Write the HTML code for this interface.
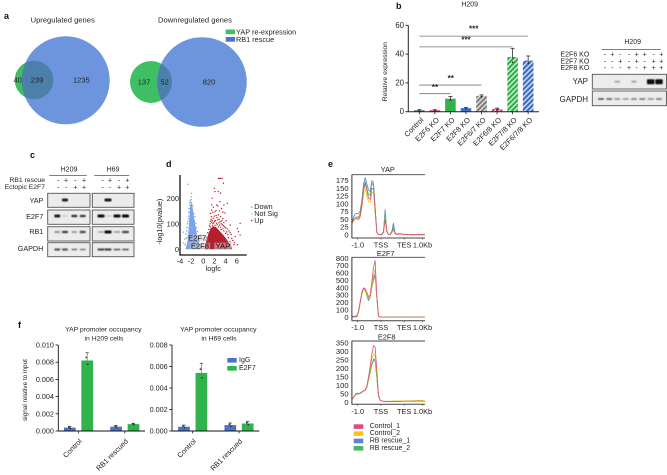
<!DOCTYPE html>
<html lang="en">
<head>
<meta charset="utf-8">
<title>Multi-panel figure</title>
<style>
html,body{margin:0;padding:0;background:#fff;width:667px;height:475px;overflow:hidden}
svg{display:block;font-family:"Liberation Sans",sans-serif;fill:#222;filter:blur(.3px)}
text{dominant-baseline:central}
.mid{text-anchor:middle}
.end{text-anchor:end}
.pl{font-weight:bold;font-size:9px;fill:#111}
</style>
</head>
<body>
<svg id="fig" xmlns="http://www.w3.org/2000/svg" width="667" height="475" viewBox="0 0 667 475">
<defs>
<filter id="bl" x="-40%" y="-80%" width="180%" height="260%"><feGaussianBlur stdDeviation="0.55"/></filter>
<clipPath id="clip-up"><circle cx="34" cy="80" r="19.3"/></clipPath>
<clipPath id="clip-down"><circle cx="151" cy="82" r="21"/></clipPath>
<pattern id="h-gray" width="3.4" height="3.4" patternUnits="userSpaceOnUse" patternTransform="rotate(45)"><rect width="3.4" height="3.4" fill="#e8e8e8"/><rect width="2.1" height="3.4" fill="#7d7d7d"/></pattern>
<pattern id="h-green" width="3.6" height="3.6" patternUnits="userSpaceOnUse" patternTransform="rotate(45)"><rect width="3.6" height="3.6" fill="#dff3e2"/><rect width="2.3" height="3.6" fill="#2fb34a"/></pattern>
<pattern id="h-blue" width="3.6" height="3.6" patternUnits="userSpaceOnUse" patternTransform="rotate(45)"><rect width="3.6" height="3.6" fill="#dfe7f6"/><rect width="2.3" height="3.6" fill="#3f6fc6"/></pattern>
<pattern id="h-red" width="3.2" height="3.2" patternUnits="userSpaceOnUse" patternTransform="rotate(45)"><rect width="3.2" height="3.2" fill="#f3d5df"/><rect width="2" height="3.2" fill="#d5336b"/></pattern>
</defs>

<!-- panel letters -->
<text class="pl" x="4" y="16">a</text>
<text class="pl" x="396" y="6">b</text>
<text class="pl" x="30" y="155">c</text>
<text class="pl" x="166" y="164">d</text>
<text class="pl" x="328" y="164">e</text>
<text class="pl" x="18" y="325">f</text>

<!-- panel a -->
<g>
<circle cx="34" cy="80" r="19.3" fill="#3fbf63"/>
<circle cx="65.7" cy="80.3" r="44" fill="#6c95dd"/>
<circle cx="65.7" cy="80.3" r="44" fill="#4b80aa" clip-path="url(#clip-up)"/>
<text class="mid" x="62.7" y="20" font-size="7.6">Upregulated genes</text>
<text class="mid" x="17.7" y="80" font-size="7.5">40</text>
<text class="mid" x="37" y="80" font-size="7.5">239</text>
<text class="mid" x="81.3" y="80" font-size="7.5">1235</text>
</g>
<g>
<circle cx="151" cy="82" r="21" fill="#3fbf63"/>
<circle cx="202" cy="82" r="44.8" fill="#6c95dd"/>
<circle cx="202" cy="82" r="44.8" fill="#4b80aa" clip-path="url(#clip-down)"/>
<text class="mid" x="195" y="20" font-size="7.6">Downregulated genes</text>
<text class="mid" x="144" y="82" font-size="7.5">137</text>
<text class="mid" x="164.7" y="82" font-size="7.5">52</text>
<text class="mid" x="209" y="82" font-size="7.5">820</text>
</g>
<g>
<rect x="225.7" y="29.5" width="9.3" height="4.7" fill="#3fbf63"/>
<text x="236" y="32" font-size="7.3">YAP re-expression</text>
<rect x="225.7" y="37" width="9.3" height="4.7" fill="#4b74c6"/>
<text x="236" y="39.3" font-size="7.3">RB1 rescue</text>
</g>

<!-- panel b text -->
<text class="mid" x="469.7" y="5" font-size="7">H209</text>
<text class="mid" transform="translate(385.7 71.7) rotate(-90)" font-size="6.8">Relative expression</text>
<text class="mid" x="632.7" y="42.3" font-size="7">H209</text>
<line x1="601.7" x2="660.7" y1="49.3" y2="49.3" stroke="#333" stroke-width=".7"/>
<text class="end" x="589.3" y="55" font-size="7">E2F6 KO</text>
<text class="end" x="589.3" y="62" font-size="7">E2F7 KO</text>
<text class="end" x="589.3" y="68.7" font-size="7">E2F8 KO</text>
<text class="end" x="588" y="81.7" font-size="8">YAP</text>
<text class="end" x="588" y="99.3" font-size="8">GAPDH</text>

<!-- panel c text -->
<text class="mid" x="69" y="170" font-size="7">H209</text>
<text class="mid" x="113" y="170" font-size="7">H69</text>
<line x1="49.3" x2="86.7" y1="175.7" y2="175.7" stroke="#333" stroke-width=".7"/>
<line x1="94.3" x2="129.3" y1="175.7" y2="175.7" stroke="#333" stroke-width=".7"/>
<text class="end" x="45" y="180.3" font-size="6.8">RB1 rescue</text>
<text class="end" x="45" y="187.3" font-size="6.8">Ectopic E2F7</text>
<text class="end" x="43.3" y="200.7" font-size="7.2">YAP</text>
<text class="end" x="43.3" y="216.3" font-size="7.2">E2F7</text>
<text class="end" x="43.3" y="231.7" font-size="7.2">RB1</text>
<text class="end" x="43.3" y="248.3" font-size="7.2">GAPDH</text>

<!-- panel d text -->
<text class="mid" transform="translate(159.3 221.7) rotate(-90)" font-size="7.2">-log10(pvalue)</text>
<text class="mid" x="213.3" y="268.3" font-size="7.2">logfc</text>
<text x="254.3" y="206.7" font-size="7.2">Down</text>
<text x="254.3" y="213.7" font-size="7.2">Not Sig</text>
<text x="254.3" y="220.3" font-size="7.2">Up</text>
<circle cx="251.7" cy="207" r=".8" fill="#6d9be8"/>
<circle cx="251.7" cy="213.7" r=".8" fill="#bbb"/>
<circle cx="251.7" cy="220.5" r=".8" fill="#b5202e"/>

<!-- panel e legend -->
<g>
<rect x="353.7" y="424.3" width="9.6" height="4.6" fill="#d94f7c"/>
<text x="369.7" y="426.5" font-size="7">Control_1</text>
<rect x="353.7" y="431.3" width="9.6" height="4.6" fill="#fbc312"/>
<text x="369.7" y="433.5" font-size="7">Control_2</text>
<rect x="353.7" y="438.7" width="9.6" height="4.6" fill="#5b83cf"/>
<text x="369.7" y="441" font-size="7">RB rescue_1</text>
<rect x="353.7" y="446" width="9.6" height="4.6" fill="#46b95f"/>
<text x="369.7" y="448.3" font-size="7">RB rescue_2</text>
</g>

<!-- panel f text -->
<text class="mid" x="103.3" y="330" font-size="6.8">YAP promoter occupancy</text>
<text class="mid" x="104" y="339" font-size="6.8">in H209 cells</text>
<text class="mid" x="218.3" y="330" font-size="6.8">YAP promoter occupancy</text>
<text class="mid" x="219" y="339" font-size="6.8">in H69 cells</text>
<text class="mid" transform="translate(25.3 390) rotate(-90)" font-size="6.4">signal relative to input</text>
<rect x="227.3" y="358" width="9.4" height="4.6" fill="#4b74c6"/>
<text x="239" y="360.3" font-size="7">IgG</text>
<rect x="227.3" y="366" width="9.4" height="4.6" fill="#2fb34a"/>
<text x="239" y="368.3" font-size="7">E2F7</text>

<g id="layer"></g>
</svg>

<script>
/* ---------- panel b: relative expression ---------- */
const bCategories = ["Control","E2F6 KO","E2F7 KO","E2F8 KO","E2F6/7 KO","E2F6/8 KO","E2F7/8 KO","E2F6/7/8 KO"];
const bValues = [1, 1, 9, 2.5, 11, 2, 38, 35.5];
const bErrors = [0.4, 0.4, 1.6, 0.5, 0.7, 0.5, 6, 3.2];
const bFills = ["#6a6a6a","#d5336b","#2fb34a","#3f6fc6","url(#h-gray)","url(#h-red)","url(#h-green)","url(#h-blue)"];
const bTicks = [0, 20, 40, 60];
const bSigSpan = [[0,7,"***"],[0,6,"***"],[0,4,"**"],[0,2,"**"]];
const bSigLevel = [52.5, 45, 18.5, 12.5];

/* ---------- panel b: blot ---------- */
const koRowE2F6 = ["-","+","-","-","+","+","-","+"];
const koRowE2F7 = ["-","-","+","-","+","-","+","+"];
const koRowE2F8 = ["-","-","-","+","-","+","+","+"];
const bBlotYap = [0, 0, 0.3, 0, 0.3, 0, 1.0, 1.0];
const bBlotGapdh = [0.65, 0.6, 0.4, 0.35, 0.45, 0.5, 0.4, 0.5];

/* ---------- panel c: blots ---------- */
const cRescue = ["-","+","-","+"];
const cEctopic = ["-","-","+","+"];
const cYapH209 = [0, 0.9, 0, 0];
const cE2f7H209 = [0.9, 0.12, 0.85, 0.8];
const cRb1H209 = [0.45, 0.8, 0.4, 0.75];
const cGapdhH209 = [0.65, 0.65, 0.5, 0.45];
const cYapH69 = [0, 0.95, 0, 0];
const cE2f7H69 = [1.0, 0.15, 1.0, 1.0];
const cRb1H69 = [0.3, 1.0, 0.35, 0.75];
const cGapdhH69 = [0.7, 0.75, 0.6, 0.6];

/* ---------- panel d: volcano ---------- */
const dXTicks = [-4, -2, 0, 2, 4, 6];
const dYTicks = [0, 100, 200];
const downEnvelope = [[-3.2,0],[-3,15],[-2.8,35],[-2.6,90],[-2.45,150],[-2.2,190],[-1.9,160],[-1.6,115],[-1.2,65],[-0.9,30],[-0.6,5],[-0.6,0]];
const upEnvelope = [[0.2,3],[0.5,30],[0.9,60],[1.3,82],[1.8,90],[2.2,88],[2.6,80],[3,70],[3.5,58],[4,45],[4.5,28],[5,12],[5.2,0],[0.2,0]];
const notSigEnvelope = [[-1.1,10],[0,14],[1,10],[1,0],[-1.1,0]];
const downPoints = [[-2.7,255],[-2.1,220],[-2.2,195],[-2.35,190],[-2.1,182],[-2.4,172],[-2.0,165],[-2.55,160],[-2.3,158],[-1.9,150],[-2.7,130],[-1.8,125],[-2.6,120],[-1.6,110],[-2.85,100],[-1.55,95],[-2.9,85],[-1.4,80],[-3.6,67],[-3.1,60],[-1.3,62],[-3.3,40],[-3.5,25],[-1.1,42],[-2.15,205],[-2.45,183],[-1.85,172],[-2.65,145],[-1.7,140],[-1.5,128],[-2.75,110],[-1.35,102],[-1.25,85],[-1.05,70],[-3,72],[-3.05,45],[-0.95,52],[-0.8,32],[-3.25,18],[-0.65,18]];
const upPoints = [[2.7,278],[2.9,278],[3.1,278],[3.4,278],[2.0,239],[3.6,259],[2.7,226],[3.1,220],[2.1,226],[1.6,200],[4.3,180],[3.7,174],[3,187],[2.4,174],[1.5,174],[3.3,160],[1.5,154],[2.1,147],[1.8,122],[2.7,135],[3.9,142],[1.7,145],[2.3,132],[3.1,128],[3.5,120],[2.6,115],[1.4,118],[2,110],[3,108],[4.1,112],[4.8,95],[3.4,96],[2.4,102],[1.7,100],[2.9,95],[3.8,88],[4.3,80],[6.6,102],[6.1,82],[6.3,69],[6.6,56],[5.7,50],[4.8,65],[5.1,42],[4.4,58],[3.7,72],[3.2,78],[5.6,26],[4.8,30],[6.1,18],[1.2,100],[1.3,110],[1.1,92],[1.5,105],[1.6,112],[1.9,104],[2.2,112],[2.5,96],[2.8,104],[3.2,100],[3.6,92],[4,84],[4.2,68],[4.6,72],[5,58],[5.3,34],[5.5,18],[4.9,20],[1,78],[0.8,65],[1.45,128],[1.95,130],[2.45,124],[2.85,118],[3.3,112],[3.7,104],[1.25,88],[1.65,92],[2.1,94],[2.7,88],[3.1,86],[3.5,80],[4.0,62],[4.5,46],[0.6,45],[0.45,36],[1.8,165],[2.3,152],[2.9,150],[3.5,146],[1.3,140],[2.6,170]];
const dLabels = [["E2F7",-1.1,45,12],["E2F8",-0.6,13,12],["YAP",3.5,13,10]];

/* ---------- panel e: binding profiles ---------- */
const eXLabels = ["-1.0","TSS","TES","1.0Kb"];
const eXLabelBins = [3.5,17.5,31.5,42.5];
const eSeriesColors = ["#5b83cf","#46b95f","#fbc312","#d94f7c"];
const yapTicks = [0,25,50,75,100,125,150,175];
const yapBlue = [42,58,68,70,68,78,112,165,185,165,145,140,175,170,90,9,2,1,1,12,82,14,2,1,12,38,6,3,4,5,3,2,2,2,2,1,1,1,1,1,1,1,1,1,1];
const yapGreen = [40,50,56,58,58,68,105,155,172,150,130,128,168,160,85,8,2,1,1,10,70,12,2,1,10,30,5,2,3,4,3,2,2,2,2,1,1,1,1,1,1,1,1,1,1];
const yapYellow = [36,45,50,50,48,58,88,130,150,125,108,105,135,138,70,8,2,1,1,8,55,10,2,1,8,18,4,2,3,3,2,2,3,3,2,1,1,1,1,1,1,1,1,1,1];
const yapPink = [38,48,55,55,52,62,95,145,165,145,118,115,150,150,80,8,2,1,1,8,50,12,2,1,8,20,4,2,3,4,3,2,2,2,2,1,1,1,1,1,1,1,1,1,1];
const e2f7Ticks = [0,100,200,300,400,500,600,700,800];
const e2f7Blue = [10,14,16,22,85,210,340,395,370,310,250,290,420,530,590,270,14,5,3,3,2,2,2,2,2,2,2,2,2,2,2,2,2,2,2,2,2,2,2,2,2,2,2,2,2];
const e2f7Green = [8,10,12,18,70,190,320,385,360,290,225,270,400,500,560,260,14,5,3,3,2,2,2,2,2,2,2,2,2,2,2,2,2,2,2,2,2,2,2,2,2,2,2,2,2];
const e2f7Yellow = [5,6,6,10,70,190,310,380,360,310,260,290,420,580,650,280,14,5,3,2,2,2,2,2,2,2,2,2,2,2,2,2,2,2,2,2,2,2,2,2,2,2,2,2,2];
const e2f7Pink = [5,6,6,10,80,210,330,400,385,340,280,300,480,680,770,300,15,5,3,2,2,2,2,2,2,2,2,2,2,2,2,2,2,2,2,2,2,2,2,2,2,2,2,2,2];
const e2f8Ticks = [0,50,100,150,200,250,300,350];
const e2f8Blue = [18,30,42,50,50,52,60,65,72,92,135,180,225,255,250,150,38,12,8,6,5,5,5,5,6,6,6,6,6,7,7,7,7,7,7,8,8,8,8,8,8,9,9,8,7];
const e2f8Green = [18,30,42,50,48,52,58,65,70,88,130,175,220,250,240,145,36,12,8,6,5,5,5,5,6,6,6,6,7,7,7,8,8,8,8,8,9,9,9,9,10,10,9,8,7];
const e2f8Yellow = [18,30,44,52,50,54,60,66,72,92,140,195,255,285,270,165,40,12,8,7,6,6,6,6,7,7,7,7,8,8,8,8,8,9,9,9,9,9,10,10,11,11,11,10,9];
const e2f8Pink = [18,30,45,55,52,55,62,68,72,95,150,215,285,335,325,190,45,12,8,6,5,5,5,5,5,5,5,5,5,5,5,6,6,6,6,6,6,6,6,7,7,7,7,6,6];

/* ---------- panel f: promoter occupancy ---------- */
const fGroups = ["Control","RB1 rescued"];
const h209Igg = [0.0004, 0.0005];
const h209E2f7 = [0.0082, 0.0008];
const h209IggErr = [0.00015, 0.00015];
const h209E2f7Err = [0.0009, 0.0001];
const h209Ticks = [0,0.002,0.004,0.006,0.008,0.010];
const h69Igg = [0.0004, 0.00055];
const h69E2f7 = [0.0054, 0.0007];
const h69IggErr = [0.00015, 0.0002];
const h69E2f7Err = [0.0009, 0.0002];
const h69Ticks = [0,0.002,0.004,0.006,0.008];

const NS = "http://www.w3.org/2000/svg";
const layer = document.getElementById("layer");
function mk(tag, attrs, name, parent, txt) {
  const el = document.createElementNS(NS, tag);
  for (const k in attrs) el.setAttribute(k, attrs[k]);
  
  
  if (txt !== undefined) el.textContent = txt;
  (parent || layer).appendChild(el);
  return el;
}
function line(x1,y1,x2,y2,stroke,w,name,parent){
  return mk("line",{x1,y1,x2,y2,stroke,"stroke-width":w},name,parent);
}
function slug(s){return String(s).toLowerCase().replace(/[^a-z0-9]+/g,'-');}

/* panel b bars */
(function(){
  const g = mk("g",{},"relative-expression-chart");
  const x0 = 419.3, step = 15.55, bw = 10.6;
  const sx = i => x0 + i*step;
  const sy = v => 111.7 - v*(86.4/60);
  bCategories.forEach((c,i)=>{
    const top = sy(bValues[i]);
    mk("rect",{x:sx(i)-bw/2,y:top,width:bw,height:sy(0)-top,fill:bFills[i]},"bar-"+slug(c),g);
    const et = sy(bValues[i]+bErrors[i]);
    line(sx(i),et,sx(i),top+2,"#333",.8,"error-bar-"+slug(c),g);
    line(sx(i)-2,et,sx(i)+2,et,"#333",.8,"error-cap-"+slug(c),g);
    mk("circle",{cx:sx(i),cy:sy(bValues[i]-bErrors[i]*.6),r:.8,fill:"#222"},"data-point-"+slug(c),g);
    line(sx(i),sy(0),sx(i),sy(0)+2.5,"#222",.8,"x-tick-"+slug(c),g);
    mk("text",{class:"end","font-size":7.4,transform:`translate(${sx(i)+3} ${sy(0)+7}) rotate(-45)`},"x-label-"+slug(c),g,c);
  });
  line(408.3,sy(0),539,sy(0),"#222",1,"x-axis",g);
  line(408.3,sy(60),408.3,sy(0),"#222",1,"y-axis",g);
  bTicks.forEach(t=>{
    line(405.5,sy(t),408.3,sy(t),"#222",.9,"y-tick-"+t,g);
    mk("text",{class:"end",x:404,y:sy(t),"font-size":7.8},"y-tick-label-"+t,g,t);
  });
  bSigSpan.forEach((s,i)=>{
    const y = sy(bSigLevel[i]);
    line(sx(s[0]),y,sx(s[1]),y,"#777",.8,"significance-line-"+i,g);
    const lx = i===0?473.7:i===1?466:i===2?450.7:435;
    const ly = [28,39,77.7,86.3][i];
    mk("text",{class:"mid",x:lx,y:ly+1,"font-size":8,"font-weight":"bold"},"significance-stars-"+i,g,s[2]);
  });
})();

function band(parent,cx,cy,w,h,v,name){
  return mk("rect",{x:cx-w/2,y:cy-h/2,width:w,height:h,rx:1,fill:"#111",opacity:v,filter:"url(#bl)"},name,parent);
}
function blotBox(parent,x,y,w,h,name){
  return mk("rect",{x,y,width:w,height:h,fill:"#ececec",stroke:"#555","stroke-width":.9},name,parent);
}

/* panel b blot */
(function(){
  const g = mk("g",{},"blot-b");
  const signX = [605,612.3,620.3,629,636.7,644.7,653.7,661.3];
  [koRowE2F6,koRowE2F7,koRowE2F8].forEach((r,ri)=>{
    r.forEach((s,i)=>mk("text",{class:"mid",x:signX[i],y:[55,62,68.7][ri],"font-size":7},"ko-sign-"+ri+"-"+i,g,s));
  });
  const laneX = [601,609.3,617.3,625.7,634,642.3,650.7,659];
  blotBox(g,592.3,74.3,74.2,14.7,"blot-b-yap-box");
  blotBox(g,592.3,91,74.2,14.7,"blot-b-gapdh-box");
  bBlotYap.forEach((v,i)=>{ if(v>0) band(g,laneX[i],81.7,v>.5?7.5:5.5,v>.5?5:2.2,v,"yap-band-"+i); });
  bBlotGapdh.forEach((v,i)=>band(g,laneX[i],99,6.2,1.7,v,"gapdh-band-"+i));
})();

/* panel c blots */
(function(){
  const g = mk("g",{},"blot-c");
  const boxes = [
    {x:47.7,w:42.3,lanes:[57.3,65,74.3,82.7],signs:[58.3,66,75.3,84],rows:[cYapH209,cE2f7H209,cRb1H209,cGapdhH209],k:"h209"},
    {x:92.3,w:41.7,lanes:[101,108,117,125.5],signs:[102.7,110,119,127.3],rows:[cYapH69,cE2f7H69,cRb1H69,cGapdhH69],k:"h69"}
  ];
  const rowY = [193.3,210,226.7,242.7];
  const rowH = [14,14.3,14.3,14];
  const bandY = [200,216,232,249.5];
  const rowNames = ["yap","e2f7","rb1","gapdh"];
  boxes.forEach(b=>{
    b.signs.forEach((x,i)=>{
      mk("text",{class:"mid",x,y:181,"font-size":7},"rescue-sign-"+b.k+"-"+i,g,cRescue[i]);
      mk("text",{class:"mid",x,y:187.8,"font-size":7},"ectopic-sign-"+b.k+"-"+i,g,cEctopic[i]);
    });
    rowY.forEach((y,r)=>{
      blotBox(g,b.x,y,b.w,rowH[r],"blot-c-"+rowNames[r]+"-"+b.k);
      b.rows[r].forEach((v,i)=>{
        if(v>0) band(g,b.lanes[i],bandY[r],b.k==="h69"?7:6,v>.85?3:v>.6?2.2:1.8,v,"band-"+rowNames[r]+"-"+b.k+"-"+i);
      });
    });
  });
})();

/* panel d volcano */
(function(){
  const g = mk("g",{},"volcano-plot");
  const sx = v => 203.3 + 5.58*v;
  const sy = v => 249.3 - 0.255*v;
  const poly = (e,fill,n) => mk("polygon",{points:e.map(p=>sx(p[0])+","+sy(p[1])).join(" "),fill},n,g);
  poly(notSigEnvelope,"#cfcfcf","not-sig-cloud");
  poly(downEnvelope,"#7aa4ec","down-cloud");
  poly(upEnvelope,"#b5202e","up-cloud");
  downPoints.forEach((p,i)=>mk("circle",{cx:sx(p[0]),cy:sy(p[1]),r:.7,fill:"#6d9be8"},"down-point-"+i,g));
  upPoints.forEach((p,i)=>mk("circle",{cx:sx(p[0]),cy:sy(p[1]),r:.7,fill:"#b5202e"},"up-point-"+i,g));
  dLabels.forEach(l=>{
    mk("rect",{x:sx(l[1])-l[3]*.85,y:sy(l[2])-3.3,width:l[3]*1.7,height:6.6,fill:"#ccc",opacity:.55},"gene-label-box-"+slug(l[0]),g);
    mk("text",{class:"mid",x:sx(l[1]),y:sy(l[2]),"font-size":7.6,fill:"#111"},"gene-label-"+slug(l[0]),g,l[0]);
  });
  line(180,175,180,255,"#111",1.3,"volcano-y-axis",g);
  line(179.4,255,246.7,255,"#111",1.3,"volcano-x-axis",g);
  dXTicks.forEach(t=>mk("text",{class:"mid",x:sx(t)-(t<0?1:0),y:261,"font-size":7.4},"volcano-x-tick-"+t,g,t));
  dYTicks.forEach(t=>mk("text",{class:"end",x:179,y:sy(t),"font-size":7.4},"volcano-y-tick-"+t,g,t));
})();

/* panel e profiles */
function profile(cfg){
  const g = mk("g",{},"profile-"+cfg.key);
  const L = 351.9, R = 425, binW = (R-L)/44;
  const sx = b => L + b*binW;
  const sy = v => cfg.y0 - (v/cfg.maxTick)*(cfg.y0-cfg.yMax);
  mk("text",{class:"mid",x:cfg.titleX,y:cfg.titleY,"font-size":7.4},"profile-title-"+cfg.key,g,cfg.title);
  cfg.series.forEach((s,si)=>{
    const d = s.map((v,i)=>(i?"L":"M")+sx(i).toFixed(2)+" "+sy(v).toFixed(2)).join("");
    mk("path",{d,fill:"none",stroke:eSeriesColors[si],"stroke-width":.8,"stroke-linejoin":"round"},"profile-line-"+cfg.key+"-"+si,g);
  });
  line(L-.2,cfg.top,R,cfg.top,"#444",.9,"profile-frame-top-"+cfg.key,g);
  line(L,cfg.top,L,cfg.bottom,"#333",1,"profile-frame-left-"+cfg.key,g);
  line(L-.2,cfg.bottom,R,cfg.bottom,"#444",1,"profile-frame-bottom-"+cfg.key,g);
  cfg.ticks.forEach(t=>mk("text",{class:"end",x:348.6,y:sy(t),"font-size":7.6},"profile-y-tick-"+cfg.key+"-"+t,g,t));
  eXLabels.forEach((l,i)=>{
    mk("text",{class:"mid",x:sx(eXLabelBins[i]),y:cfg.bottom+7,"font-size":7.4},"profile-x-label-"+cfg.key+"-"+slug(l),g,l);
    line(sx(eXLabelBins[i]),cfg.bottom,sx(eXLabelBins[i]),cfg.bottom+1.5,"#333",.6,"profile-x-tick-"+cfg.key+"-"+i,g);
  });
}
profile({key:"yap",title:"YAP",titleX:387.7,titleY:169.3,top:174.7,bottom:238,y0:235,yMax:180.7,maxTick:175,ticks:yapTicks,series:[yapBlue,yapGreen,yapYellow,yapPink]});
profile({key:"e2f7",title:"E2F7",titleX:385.7,titleY:253.3,top:257.3,bottom:320.7,y0:317.3,yMax:258.3,maxTick:800,ticks:e2f7Ticks,series:[e2f7Blue,e2f7Green,e2f7Yellow,e2f7Pink]});
profile({key:"e2f8",title:"E2F8",titleX:386.7,titleY:337,top:341,bottom:404.3,y0:402.3,yMax:343,maxTick:350,ticks:e2f8Ticks,series:[e2f8Blue,e2f8Green,e2f8Yellow,e2f8Pink]});

/* panel f occupancy */
function occupancy(cfg){
  const g = mk("g",{},"occupancy-"+cfg.key);
  const sy = v => 431 - v/cfg.max*86;
  const bw = 11.7;
  cfg.groups.forEach((name,i)=>{
    const cx = cfg.centers[i];
    [[cfg.igg,cfg.iggErr,-8.7,"#4b74c6","igg"],[cfg.e2f7,cfg.e2f7Err,8.7,"#2fb34a","e2f7"]].forEach(s=>{
      const v = s[0][i], e = s[1][i], bx = cx+s[2];
      mk("rect",{x:bx-bw/2,y:sy(v),width:bw,height:431-sy(v),fill:s[3]},"bar-"+cfg.key+"-"+slug(name)+"-"+s[4],g);
      line(bx,sy(v+e),bx,sy(v),"#888",.9,"error-bar-"+cfg.key+"-"+i+"-"+s[4],g);
      line(bx-1.6,sy(v+e),bx+1.6,sy(v+e),"#444",.8,"error-cap-"+cfg.key+"-"+i+"-"+s[4],g);
      mk("circle",{cx:bx+.5,cy:sy(v-e*.5),r:.8,fill:"#222"},"data-point-"+cfg.key+"-"+i+"-"+s[4]+"-a",g);
      mk("circle",{cx:bx-1,cy:sy(v+e*.4),r:.8,fill:"#222"},"data-point-"+cfg.key+"-"+i+"-"+s[4]+"-b",g);
    });
    line(cx,431,cx,433.5,"#222",.8,"x-tick-"+cfg.key+"-"+i,g);
    mk("text",{class:"end","font-size":7.2,transform:`translate(${cx+2} 440) rotate(-45)`},"x-label-"+cfg.key+"-"+slug(name),g,name);
  });
  line(cfg.ax,431,cfg.axEnd,431,"#111",.9,"x-axis-"+cfg.key,g);
  line(cfg.ax,345,cfg.ax,431,"#111",.9,"y-axis-"+cfg.key,g);
  cfg.ticks.forEach(t=>{
    line(cfg.ax-2.8,sy(t),cfg.ax,sy(t),"#111",.8,"y-tick-"+cfg.key+"-"+t,g);
    mk("text",{class:"end",x:cfg.ax-4.4,y:sy(t),"font-size":7.2},"y-tick-label-"+cfg.key+"-"+t,g,t.toFixed(3));
  });
}
occupancy({key:"h209",max:0.010,ax:58.3,axEnd:145,centers:[78.5,124.8],groups:fGroups,igg:h209Igg,e2f7:h209E2f7,iggErr:h209IggErr,e2f7Err:h209E2f7Err,ticks:h209Ticks});
occupancy({key:"h69",max:0.008,ax:172,axEnd:259.3,centers:[192.7,239],groups:fGroups,igg:h69Igg,e2f7:h69E2f7,iggErr:h69IggErr,e2f7Err:h69E2f7Err,ticks:h69Ticks});
</script>
</body>
</html>
